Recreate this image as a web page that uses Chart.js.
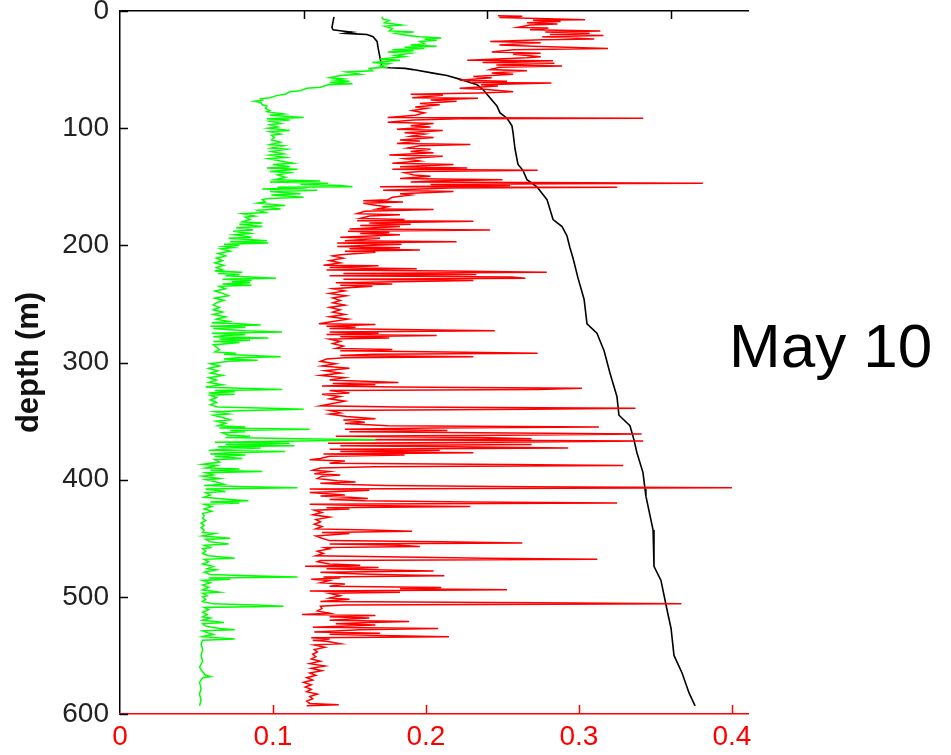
<!DOCTYPE html>
<html>
<head>
<meta charset="utf-8">
<script src="https://cdn.jsdelivr.net/npm/chart.js@4.4.1/dist/chart.umd.min.js"></script>
<style>
  html, body { margin: 0; padding: 0; background: #ffffff; }
  #wrap { position: relative; width: 951px; height: 755px; overflow: hidden; }
  #c { position: absolute; left: 0; top: 0; }
  #date { position: absolute; left: 729px; top: 315px; font-family: "Liberation Sans", Arial, sans-serif;
          font-size: 62px; line-height: 62px; color: #000; white-space: nowrap; }
</style>
</head>
<body>
<div id="wrap">
  <canvas id="c" width="951" height="755"></canvas>
  <div id="date">May 10</div>
</div>
<script>
// ---------- data (depth in m, value) ----------
const depthTicks = [0, 100, 200, 300, 400, 500, 600];
const bottomTicks = [0, 0.1, 0.2, 0.3, 0.4];
const topTicks = [1, 2, 3];

// red profile: [depth, value] (bottom axis)
const redProfile = [
[4,0.247],[4.5,0.263],[5.5,0.248],[7.5,0.304],[8,0.270],[9,0.288],[10,0.266],[11,0.286],[12,0.268],[14,0.260],
[14.5,0.280],[16,0.268],[17,0.314],[18,0.278],[19,0.307],[20,0.281],[21,0.316],[22,0.276],[24,0.310],[24.5,0.276],
[26,0.242],[27,0.275],[29,0.248],[30,0.270],[32,0.319],[33,0.257],[35,0.243],[36,0.275],[37,0.257],[39,0.275],
[40,0.266],[42,0.227],[42.5,0.283],[44,0.237],[44.5,0.284],[46,0.246],[47,0.289],[48,0.248],[50,0.242],[51,0.266],
[53,0.243],[54,0.257],[56,0.231],[57,0.243],[59,0.222],[60,0.253],[61,0.229],[61.5,0.282],[63,0.236],[64,0.247],
[66,0.222],[67,0.240],[69,0.257],[70,0.235],[71,0.190],[72,0.211],[74,0.191],[74.5,0.234],[76,0.203],[77,0.220],
[79,0.196],[80,0.209],[82,0.193],[83,0.201],[85,0.191],[87,0.199],[89,0.193],[91,0.175],[91.5,0.342],[92,0.222],
[93,0.192],[95,0.175],[96,0.205],[98,0.190],[99,0.203],[101,0.181],[102,0.211],[104,0.186],[105,0.199],[107,0.190],
[108,0.205],[110,0.183],[111,0.196],[113,0.181],[114,0.229],[115,0.196],[117,0.188],[118,0.203],[120,0.190],[121,0.205],
[123,0.176],[124,0.211],[126,0.186],[128,0.196],[130,0.178],[131,0.218],[133,0.183],[134,0.227],[135,0.178],[136,0.273],
[137,0.196],[138,0.186],[140,0.192],[141,0.203],[143,0.183],[144,0.250],[145,0.203],[146,0.190],[147,0.381],[147.5,0.288],
[148,0.203],[149,0.255],[150,0.170],[150.5,0.325],[151,0.216],[153,0.172],[154,0.218],[156,0.183],[157,0.190],[159,0.178],
[161,0.175],[162,0.159],[163,0.185],[164,0.159],[166,0.168],[167,0.175],[169,0.168],[169.5,0.205],[171,0.160],[173,0.155],
[174,0.183],[175,0.163],[177,0.157],[178,0.186],[179,0.155],[179.5,0.231],[181,0.163],[182,0.190],[183,0.157],[184,0.183],
[186,0.150],[187,0.242],[188,0.149],[189,0.176],[190,0.157],[191,0.183],[193,0.144],[194,0.170],[196,0.147],[197,0.220],
[198,0.142],[199,0.184],[201,0.142],[202,0.183],[203,0.150],[204,0.196],[205,0.147],[206,0.167],[208,0.144],[209,0.139],
[211,0.146],[213,0.137],[215,0.144],[217,0.133],[217.5,0.169],[219,0.137],[220,0.194],[221,0.135],[222,0.214],[223,0.279],
[224,0.146],[225,0.233],[226,0.137],[227,0.256],[228,0.265],[229,0.146],[230,0.231],[231,0.180],[232,0.141],[233,0.178],
[234,0.144],[235,0.165],[237,0.139],[239,0.147],[241,0.137],[243,0.148],[245,0.139],[247,0.144],[249,0.139],[251,0.147],
[253,0.137],[255,0.144],[257,0.139],[259,0.147],[261,0.137],[263,0.149],[265,0.139],[267,0.130],[267.5,0.167],[269,0.135],
[270,0.154],[271,0.137],[272,0.194],[273,0.245],[274,0.137],[275,0.169],[276,0.135],[277,0.207],[278,0.144],[279,0.176],
[280,0.137],[282,0.144],[284,0.139],[286,0.146],[288,0.141],[289,0.178],[290,0.144],[291,0.214],[292,0.273],[293,0.165],
[294,0.144],[295,0.231],[296,0.147],[297,0.135],[299,0.131],[301,0.141],[303,0.132],[305,0.150],[307,0.134],[309,0.144],
[311,0.131],[313,0.147],[315,0.137],[317,0.182],[318,0.139],[319,0.167],[320,0.132],[321,0.180],[322,0.302],[323,0.273],
[324,0.137],[326,0.150],[327,0.132],[329,0.144],[331,0.137],[333,0.147],[335,0.139],[337,0.131],[338,0.182],[339,0.337],
[340,0.269],[341,0.137],[343,0.144],[344,0.137],[346,0.148],[348,0.167],[349,0.146],[351,0.160],[352,0.147],[354,0.175],
[355,0.313],[356,0.204],[357,0.147],[358,0.214],[359,0.150],[360,0.235],[361,0.341],[362,0.251],[363,0.141],[364,0.235],
[365,0.269],[366,0.157],[367,0.342],[368,0.247],[369,0.136],[370,0.269],[371,0.144],[372,0.216],[373,0.293],[374,0.137],
[375,0.209],[376,0.144],[377,0.231],[378,0.133],[379,0.186],[380,0.137],[382,0.131],[383,0.124],[384,0.147],[386,0.137],
[387,0.254],[388,0.329],[389,0.166],[390,0.131],[392,0.126],[393,0.137],[395,0.127],[396,0.144],[397,0.132],[399,0.129],
[401,0.142],[402,0.154],[403,0.131],[404,0.144],[405,0.173],[406,0.266],[407,0.400],[408,0.124],[409,0.163],[410,0.144],
[411,0.124],[413,0.147],[414,0.131],[415,0.150],[416,0.162],[417,0.137],[418,0.160],[419,0.229],[420,0.325],[421,0.124],
[422,0.157],[423,0.229],[424,0.135],[425,0.150],[426,0.127],[428,0.132],[430,0.126],[432,0.137],[434,0.128],[436,0.131],
[438,0.127],[440,0.132],[442,0.128],[443,0.163],[444,0.191],[445,0.132],[446,0.150],[448,0.128],[450,0.132],[452,0.137],
[453,0.210],[454,0.263],[455,0.137],[456,0.183],[457,0.196],[458,0.134],[459,0.137],[461,0.129],[463,0.133],[465,0.128],
[466,0.184],[467,0.239],[468,0.312],[469,0.131],[470,0.129],[472,0.137],[473,0.157],[474,0.121],[475,0.169],[476,0.135],
[477,0.173],[478,0.205],[479,0.131],[480,0.147],[481,0.170],[482,0.212],[483,0.133],[484,0.144],[485,0.125],[486,0.137],
[488,0.131],[489,0.147],[491,0.137],[492,0.210],[493,0.183],[494,0.253],[495,0.124],[496,0.183],[497,0.137],[499,0.144],
[501,0.137],[502,0.150],[504,0.131],[505,0.273],[506,0.367],[507,0.146],[508,0.131],[510,0.132],[512,0.129],[514,0.137],
[515,0.119],[516,0.167],[517,0.137],[518,0.163],[520,0.137],[521,0.189],[522,0.163],[523,0.141],[524,0.167],[526,0.126],
[527,0.208],[528,0.157],[530,0.127],[531,0.170],[532,0.137],[533,0.170],[534,0.215],[535,0.125],[536,0.137],[537,0.126],
[538,0.135],[540,0.144],[541,0.127],[543,0.134],[545,0.127],[547,0.129],[549,0.126],[551,0.128],[553,0.125],[555,0.131],
[557,0.124],[559,0.134],[561,0.125],[563,0.132],[565,0.124],[567,0.128],[569,0.122],[571,0.126],[573,0.120],[575,0.125],
[577,0.121],[579,0.125],[581,0.122],[583,0.129],[585,0.124],[587,0.126],[589,0.122],[591,0.124],[592,0.143],[593,0.122]
];

// green profile: [depth, value] (bottom axis)
const greenProfile = [
[5,0.171],[7,0.172],[8,0.176],[10,0.173],[12,0.184],[13,0.173],[15,0.178],[17,0.176],[18,0.192],[19,0.180],
[21,0.188],[22,0.196],[23,0.210],[24,0.199],[25,0.207],[26,0.196],[28,0.199],[29,0.190],[30,0.207],[31,0.186],
[32,0.199],[33,0.178],[34,0.192],[35,0.175],[36,0.190],[38,0.180],[39,0.186],[41,0.170],[42,0.183],[44,0.165],
[45,0.176],[47,0.170],[48,0.173],[49,0.163],[51,0.165],[52,0.148],[54,0.157],[55,0.144],[57,0.137],[58,0.146],
[59,0.141],[60,0.150],[61,0.137],[62,0.152],[63,0.136],[65,0.131],[66,0.122],[68,0.118],[69,0.111],[71,0.108],
[72,0.103],[74,0.098],[75,0.092],[76,0.093],[77,0.088],[78,0.092],[80,0.093],[81,0.096],[83,0.095],[85,0.098],
[86,0.096],[88,0.107],[89,0.098],[91,0.120],[92,0.096],[93,0.111],[94,0.098],[96,0.105],[97,0.098],[99,0.103],
[100,0.097],[102,0.111],[103,0.098],[105,0.105],[106,0.099],[108,0.101],[110,0.099],[112,0.105],[114,0.098],[115,0.107],
[117,0.099],[118,0.109],[120,0.099],[122,0.107],[123,0.098],[125,0.108],[126,0.097],[128,0.105],[130,0.113],[131,0.100],
[133,0.111],[134,0.096],[135,0.116],[137,0.098],[138,0.111],[140,0.103],[142,0.108],[144,0.101],[145,0.131],[146,0.098],
[147,0.136],[148,0.118],[149,0.144],[150,0.152],[150.5,0.103],[151,0.122],[152,0.093],[153,0.129],[154,0.098],[156,0.118],
[157,0.099],[159,0.120],[160,0.097],[161,0.093],[163,0.095],[164,0.090],[166,0.108],[167,0.093],[169,0.105],[170,0.090],
[172,0.095],[173,0.080],[175,0.088],[176,0.082],[178,0.085],[180,0.080],[181,0.093],[182,0.078],[184,0.093],[185,0.076],
[187,0.087],[188,0.074],[190,0.085],[191,0.075],[193,0.086],[194,0.071],[195,0.084],[196,0.096],[197,0.072],[198,0.097],
[199,0.068],[200,0.078],[201,0.068],[202,0.074],[203,0.066],[205,0.072],[207,0.064],[209,0.069],[211,0.063],[213,0.067],
[215,0.062],[217,0.068],[219,0.063],[221,0.067],[222,0.062],[223,0.080],[224,0.064],[225,0.078],[226,0.069],[227,0.085],
[228,0.102],[229,0.067],[230,0.086],[231,0.073],[232,0.085],[233,0.067],[234,0.086],[235,0.065],[237,0.069],[239,0.062],
[241,0.067],[243,0.071],[245,0.062],[247,0.068],[249,0.063],[251,0.061],[253,0.065],[255,0.061],[257,0.067],[259,0.061],
[261,0.069],[263,0.063],[265,0.071],[266,0.060],[267,0.078],[268,0.092],[269,0.059],[270,0.082],[271,0.061],[272,0.072],
[273,0.082],[274,0.106],[275,0.060],[276,0.082],[277,0.069],[278,0.061],[279,0.097],[280,0.065],[281,0.085],[282,0.061],
[283,0.078],[285,0.061],[287,0.063],[289,0.065],[291,0.062],[292,0.076],[293,0.068],[294,0.085],[295,0.105],[296,0.076],
[297,0.068],[298,0.090],[299,0.071],[301,0.059],[303,0.065],[305,0.058],[307,0.064],[309,0.059],[311,0.067],[313,0.058],
[315,0.063],[317,0.058],[319,0.067],[321,0.056],[322,0.078],[323,0.106],[324,0.062],[325,0.075],[326,0.058],[327,0.075],
[328,0.059],[330,0.063],[332,0.059],[334,0.063],[336,0.059],[338,0.064],[339,0.098],[340,0.120],[341,0.083],[342,0.062],
[344,0.071],[345,0.061],[347,0.067],[349,0.072],[350,0.063],[352,0.069],[354,0.064],[355,0.082],[356,0.065],[357,0.124],
[358,0.072],[359,0.082],[360,0.067],[362,0.071],[363,0.085],[364,0.069],[365,0.118],[366,0.167],[367,0.119],[368,0.062],
[369,0.111],[370,0.069],[371,0.114],[372,0.064],[373,0.092],[374,0.067],[375,0.058],[376,0.108],[377,0.072],[378,0.059],
[379,0.082],[380,0.062],[382,0.080],[383,0.062],[385,0.065],[387,0.054],[388,0.063],[390,0.056],[391,0.078],[392,0.059],
[393,0.093],[394,0.056],[396,0.061],[397,0.054],[399,0.065],[400,0.056],[402,0.063],[404,0.068],[405,0.055],[406,0.084],
[407,0.116],[408,0.056],[410,0.069],[411,0.056],[413,0.059],[415,0.055],[417,0.072],[418,0.084],[419,0.059],[420,0.078],
[421,0.055],[423,0.060],[425,0.055],[427,0.060],[429,0.054],[431,0.055],[433,0.054],[435,0.056],[437,0.053],[439,0.055],
[441,0.053],[443,0.055],[445,0.054],[446,0.062],[448,0.054],[450,0.072],[451,0.056],[453,0.059],[455,0.071],[456,0.055],
[458,0.059],[459,0.054],[461,0.056],[463,0.054],[465,0.058],[467,0.075],[468,0.055],[470,0.058],[472,0.054],[474,0.061],
[476,0.057],[477,0.063],[479,0.055],[481,0.059],[482,0.085],[483,0.116],[484,0.058],[485,0.072],[486,0.054],[488,0.059],
[490,0.054],[492,0.058],[494,0.054],[496,0.065],[497,0.054],[499,0.057],[500,0.054],[502,0.056],[504,0.054],[506,0.061],
[507,0.089],[508,0.107],[509,0.055],[511,0.058],[513,0.054],[515,0.057],[517,0.054],[518,0.059],[520,0.054],[522,0.068],
[523,0.054],[525,0.056],[527,0.065],[528,0.075],[529,0.054],[531,0.058],[532,0.061],[534,0.054],[536,0.075],[537,0.054],
[540,0.053],[545,0.054],[550,0.053],[555,0.054],[560,0.052],[564,0.054],[567,0.056],[568,0.059],[569,0.054],[573,0.052],
[578,0.053],[583,0.052],[588,0.053],[593,0.052]
];

// black profile: [depth, value] (top axis, unlabelled units)
const blackProfile = [
[5,1.166],[14,1.155],[16,1.161],[17,1.210],[18,1.264],[19,1.226],[19.5,1.281],[20,1.346],[22,1.379],[26,1.401],
[31,1.406],[40,1.417],[48,1.428],[48.5,1.471],[49,1.553],[50,1.597],[53,1.706],[55,1.782],[59,1.869],[63,1.946],
[67,1.978],[74,2.016],[81,2.054],[87,2.071],[91.5,2.109],[98,2.136],[104,2.142],[118,2.153],[131,2.169],[136,2.196],
[144,2.218],[150,2.272],[161,2.327],[178,2.360],[184,2.409],[192,2.436],[202,2.452],[211,2.469],[228,2.496],[246,2.529],
[267,2.545],[275,2.599],[290,2.638],[309,2.670],[329,2.708],[345,2.719],[354,2.779],[366,2.801],[377,2.817],[394,2.850],
[408,2.861],[414,2.866],[443,2.905],[474,2.910],[486,2.948],[511,2.981],[527,3.003],[550,3.019],[565,3.063],[582,3.101],
[593,3.134]
];

// ---------- chart ----------
const FONT = '"Liberation Sans", Arial, Helvetica, sans-serif';
const toPts = arr => arr.map(p => ({ x: p[1], y: p[0] }));

const innerTicks = {
  id: 'innerTicks',
  afterDatasetsDraw(chart) {
    const ctx = chart.ctx, a = chart.chartArea;
    const y = chart.scales.y, x = chart.scales.x, xt = chart.scales.xt;
    ctx.save();
    ctx.lineWidth = 1.5;
    ctx.strokeStyle = '#000';
    depthTicks.forEach(v => {
      const p = Math.round(y.getPixelForValue(v)) + 0.5;
      ctx.beginPath(); ctx.moveTo(a.left, p); ctx.lineTo(a.left + 8, p); ctx.stroke();
    });
    topTicks.forEach(v => {
      const p = Math.round(xt.getPixelForValue(v)) + 0.5;
      ctx.beginPath(); ctx.moveTo(p, a.top); ctx.lineTo(p, a.top + 8); ctx.stroke();
    });
    ctx.strokeStyle = '#ff0000';
    bottomTicks.forEach(v => {
      if (v === 0) return;
      const p = Math.round(x.getPixelForValue(v)) + 0.5;
      ctx.beginPath(); ctx.moveTo(p, a.bottom); ctx.lineTo(p, a.bottom - 9); ctx.stroke();
    });
    ctx.restore();
  }
};

new Chart(document.getElementById('c'), {
  type: 'scatter',
  data: {
    datasets: [
      { label: 'green', data: toPts(greenProfile), xAxisID: 'x', yAxisID: 'y',
        showLine: true, borderColor: '#00ff00', borderWidth: 1.5, pointRadius: 0, tension: 0 },
      { label: 'red', data: toPts(redProfile), xAxisID: 'x', yAxisID: 'y',
        showLine: true, borderColor: '#ff0000', borderWidth: 1.5, pointRadius: 0, tension: 0 },
      { label: 'black', data: toPts(blackProfile), xAxisID: 'xt', yAxisID: 'y',
        showLine: true, borderColor: '#000000', borderWidth: 1.6, pointRadius: 0, tension: 0 }
    ]
  },
  options: {
    responsive: false,
    animation: false,
    devicePixelRatio: 1,
    layout: { padding: { left: 0, right: 203, top: 0, bottom: 0 } },
    plugins: { legend: { display: false }, tooltip: { enabled: false } },
    scales: {
      y: {
        type: 'linear', position: 'left', reverse: true, min: 0, max: 600,
        afterBuildTicks: s => { s.ticks = depthTicks.map(v => ({ value: v })); },
        afterFit: s => { s.width = 120; s.paddingTop = 0; s.paddingBottom = 0; },
        grid: { display: false, drawTicks: false },
        border: { display: true, color: '#000', width: 1.5 },
        ticks: { font: { family: FONT, size: 28 }, color: '#222', padding: 11 },
        title: { display: true, text: 'depth (m)', color: '#111',
                 font: { family: FONT, size: 31, weight: 'bold' }, padding: { top: 11, bottom: 0 } }
      },
      x: {
        type: 'linear', position: 'bottom', min: 0, max: 0.4105,
        afterBuildTicks: s => { s.ticks = bottomTicks.map(v => ({ value: v })); },
        afterFit: s => { s.height = 41; s.paddingLeft = 0; s.paddingRight = 0; },
        grid: { display: false, drawTicks: false },
        border: { display: true, color: '#ff0000', width: 1.5 },
        ticks: { font: { family: FONT, size: 28 }, color: '#ff0000', padding: 6,
                 callback: v => String(v) }
      },
      xt: {
        type: 'linear', position: 'top', min: 0, max: 3.4223,
        afterBuildTicks: s => { s.ticks = topTicks.map(v => ({ value: v })); },
        afterFit: s => { s.height = 11; s.paddingLeft = 0; s.paddingRight = 0; },
        grid: { display: false, drawTicks: false },
        border: { display: true, color: '#000', width: 1.5 },
        ticks: { display: false }
      }
    }
  },
  plugins: [innerTicks]
});
</script>
</body>
</html>
